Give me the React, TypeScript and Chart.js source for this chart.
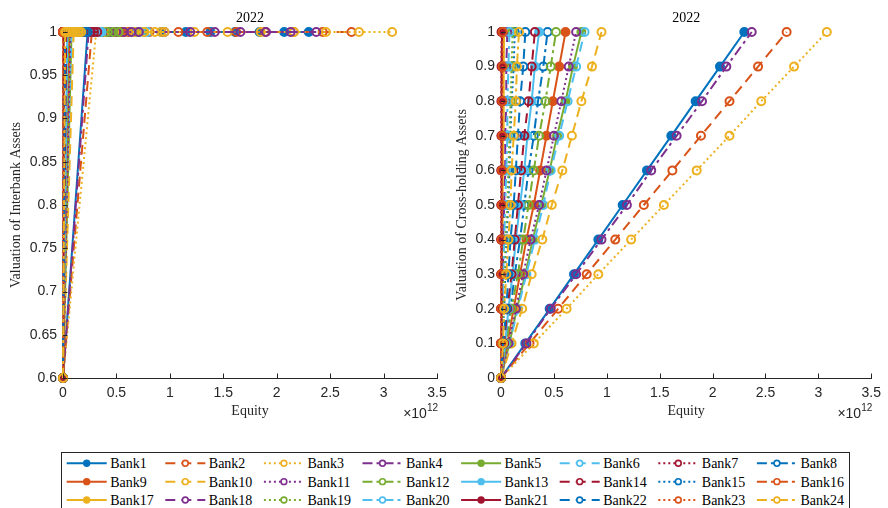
import React, { useEffect, useRef } from "react";
import { Chart, registerables } from "chart.js";

Chart.register(...registerables);

// ---------------- DATA ----------------
const bankNames = [
  "Bank1", "Bank2", "Bank3", "Bank4", "Bank5", "Bank6", "Bank7", "Bank8",
  "Bank9", "Bank10", "Bank11", "Bank12", "Bank13", "Bank14", "Bank15", "Bank16",
  "Bank17", "Bank18", "Bank19", "Bank20", "Bank21", "Bank22", "Bank23", "Bank24",
];

// y values of each series
const interbankValuation = [0.6, 1, 1, 1, 1, 1, 1, 1, 1, 1, 1];
const crossHoldingValuation = [0, 0.1, 0.2, 0.3, 0.4, 0.5, 0.6, 0.7, 0.8, 0.9, 1];

// Equity (×10^12) of each bank at each valuation step
const bank1 = [0, 0.23, 0.46, 0.69, 0.92, 1.15, 1.38, 1.61, 1.84, 2.07, 2.3];
const bank2 = [0, 0.27, 0.54, 0.81, 1.08, 1.35, 1.62, 1.89, 2.16, 2.43, 2.7];
const bank3 = [0, 0.31, 0.62, 0.92, 1.23, 1.54, 1.85, 2.16, 2.46, 2.77, 3.08];
const bank4 = [0, 0.24, 0.47, 0.71, 0.95, 1.19, 1.42, 1.66, 1.9, 2.13, 2.37];
const bank5 = [0, 0.08, 0.15, 0.23, 0.3, 0.38, 0.46, 0.53, 0.61, 0.68, 0.76];
const bank6 = [0, 0.08, 0.16, 0.24, 0.32, 0.4, 0.47, 0.55, 0.63, 0.71, 0.79];
const bank7 = [0, 0.001, 0.001, 0.002, 0.002, 0.003, 0.003, 0.004, 0.004, 0.005, 0.005];
const bank8 = [0, 0.04, 0.09, 0.13, 0.18, 0.22, 0.26, 0.31, 0.35, 0.4, 0.44];
const bank9 = [0, 0.06, 0.12, 0.18, 0.24, 0.31, 0.37, 0.43, 0.49, 0.55, 0.61];
const bank10 = [0, 0.1, 0.2, 0.29, 0.39, 0.48, 0.58, 0.67, 0.76, 0.86, 0.95];
const bank11 = [0, 0.07, 0.14, 0.21, 0.28, 0.36, 0.43, 0.5, 0.57, 0.64, 0.71];
const bank12 = [0, 0.05, 0.1, 0.16, 0.21, 0.26, 0.31, 0.36, 0.42, 0.47, 0.52];
const bank13 = [0, 0.04, 0.07, 0.11, 0.14, 0.18, 0.22, 0.25, 0.29, 0.32, 0.36];
const bank14 = [0, 0.03, 0.06, 0.1, 0.13, 0.16, 0.19, 0.22, 0.26, 0.29, 0.32];
const bank15 = [0, 0.01, 0.03, 0.04, 0.05, 0.07, 0.08, 0.09, 0.1, 0.12, 0.13];
const bank16 = [0, 0.002, 0.004, 0.006, 0.008, 0.01, 0.012, 0.014, 0.016, 0.018, 0.02];
const bank17 = [0, 0.003, 0.006, 0.009, 0.012, 0.015, 0.018, 0.021, 0.024, 0.027, 0.03];
const bank18 = [0, 0.01, 0.01, 0.02, 0.02, 0.03, 0.04, 0.04, 0.05, 0.05, 0.06];
const bank19 = [0, 0.01, 0.02, 0.03, 0.04, 0.06, 0.07, 0.08, 0.09, 0.1, 0.11];
const bank20 = [0, 0.01, 0.02, 0.02, 0.03, 0.04, 0.05, 0.06, 0.06, 0.07, 0.08];
const bank21 = [0, 0.001, 0.002, 0.003, 0.004, 0.005, 0.006, 0.007, 0.008, 0.009, 0.01];
const bank22 = [0, 0.02, 0.05, 0.07, 0.09, 0.12, 0.14, 0.16, 0.18, 0.21, 0.23];
const bank23 = [0, 0.002, 0.003, 0.005, 0.006, 0.008, 0.009, 0.011, 0.012, 0.014, 0.015];
const bank24 = [0, 0.02, 0.03, 0.05, 0.07, 0.09, 0.1, 0.12, 0.14, 0.15, 0.17];

const equity = [
  bank1, bank2, bank3, bank4, bank5, bank6, bank7, bank8,
  bank9, bank10, bank11, bank12, bank13, bank14, bank15, bank16,
  bank17, bank18, bank19, bank20, bank21, bank22, bank23, bank24,
];

const xTicks = [0, 0.5, 1, 1.5, 2, 2.5, 3, 3.5];
const leftYTicks = [0.6, 0.65, 0.7, 0.75, 0.8, 0.85, 0.9, 0.95, 1];
const rightYTicks = [0, 0.1, 0.2, 0.3, 0.4, 0.5, 0.6, 0.7, 0.8, 0.9, 1];

const titleText = "2022";
const leftYLabel = "Valuation of Interbank Assets";
const rightYLabel = "Valuation of Cross-holding Assets";
const xLabel = "Equity";

// ---------------- STYLE ----------------
const palette = ["#0072BD", "#D95319", "#EDB120", "#7E2F8E", "#77AC30", "#4DBEEE", "#A2142F"];
const dashes: number[][] = [[], [10, 6], [2, 3], [10, 4, 3, 4]];
const svgDashes = ["none", "10 6", "2 3", "10 4 3 4"];
const AXIS = "#262626";
const SANS = '"Liberation Sans", Arial, sans-serif';
const SERIF = '"Liberation Serif", "Times New Roman", serif';

const fmt = (v: number) => String(+(+v).toFixed(2));

const axisExtras = {
  id: "axisExtras",
  afterDraw(chart: any) {
    const { ctx, chartArea: a, scales } = chart;
    const x = scales.x;
    const y = scales.y;
    ctx.save();
    ctx.strokeStyle = AXIS;
    ctx.lineWidth = 1;
    ctx.beginPath();
    x.ticks.forEach((t: any) => {
      const px = Math.round(x.getPixelForValue(t.value)) + 0.5;
      ctx.moveTo(px, a.bottom);
      ctx.lineTo(px, a.bottom - 4.5);
    });
    y.ticks.forEach((t: any) => {
      const py = Math.round(y.getPixelForValue(t.value)) + 0.5;
      ctx.moveTo(a.left, py);
      ctx.lineTo(a.left + 4.5, py);
    });
    ctx.stroke();
    ctx.fillStyle = AXIS;
    ctx.textAlign = "right";
    ctx.textBaseline = "alphabetic";
    ctx.font = `10px ${SANS}`;
    ctx.fillText("12", a.right + 1, 411);
    const w = ctx.measureText("12").width;
    ctx.font = `14px ${SANS}`;
    ctx.fillText("\u00d710", a.right + 1 - w, 418);
    ctx.restore();
  },
};

function makeConfig(side: "left" | "right"): any {
  const yVals = side === "left" ? interbankValuation : crossHoldingValuation;
  const yTicks = side === "left" ? leftYTicks : rightYTicks;
  const datasets = equity.map((xs, i) => {
    const color = palette[i % 7];
    const style = i % 4;
    return {
      label: bankNames[i],
      data: xs.map((xv, k) => ({ x: xv, y: yVals[k] })),
      borderColor: color,
      backgroundColor: color,
      borderWidth: 2,
      borderDash: dashes[style],
      borderCapStyle: "butt",
      pointRadius: 4,
      pointHoverRadius: 4,
      pointBorderWidth: 2,
      pointBorderColor: color,
      pointBackgroundColor: style === 0 ? color : "rgba(255,255,255,0)",
      tension: 0,
      fill: false,
      clip: false,
      order: 24 - i,
    };
  });
  const isLeft = side === "left";
  return {
    type: "line",
    data: { datasets },
    options: {
      responsive: false,
      animation: false,
      events: [],
      devicePixelRatio: 1,
      layout: {
        padding: isLeft
          ? { left: 0, right: 451, top: 0, bottom: 88.2 }
          : { left: 446, right: 12.3, top: 0, bottom: 88.2 },
      },
      plugins: {
        legend: { display: false },
        tooltip: { enabled: false },
        title: {
          display: true,
          text: titleText,
          fullSize: false,
          color: "#000",
          font: { family: SERIF, size: 14, weight: "normal", lineHeight: 1.2 },
          padding: { top: 10, bottom: 5.2 },
        },
      },
      scales: {
        x: {
          type: "linear",
          min: 0,
          max: 3.5,
          afterFit: (s: any) => { s.height = 41.8; },
          afterBuildTicks: (s: any) => { s.ticks = xTicks.map((v) => ({ value: v })); },
          grid: { display: false, drawTicks: false, tickLength: 0 },
          border: { display: true, color: AXIS, width: 1 },
          ticks: {
            color: AXIS,
            font: { family: SANS, size: 14, lineHeight: 1.2 },
            padding: 7,
            maxRotation: 0,
            autoSkip: false,
            callback: (v: any) => fmt(v),
          },
          title: {
            display: true,
            text: xLabel,
            color: AXIS,
            font: { family: SERIF, size: 14, lineHeight: 1.2 },
            padding: { top: 0, bottom: 0 },
          },
        },
        y: {
          type: "linear",
          min: yTicks[0],
          max: yTicks[yTicks.length - 1],
          afterFit: (s: any) => { s.width = isLeft ? 63 : 55; },
          afterBuildTicks: (s: any) => { s.ticks = yTicks.map((v) => ({ value: v })); },
          grid: { display: false, drawTicks: false, tickLength: 0 },
          border: { display: true, color: AXIS, width: 1 },
          ticks: {
            color: AXIS,
            font: { family: SANS, size: 14, lineHeight: 1.2 },
            padding: 6,
            autoSkip: false,
            callback: (v: any) => fmt(v),
          },
          title: {
            display: true,
            text: isLeft ? leftYLabel : rightYLabel,
            color: AXIS,
            font: { family: SERIF, size: 14, lineHeight: 1.2 },
            padding: { top: 8, bottom: 0 },
          },
        },
      },
    },
    plugins: [axisExtras],
  };
}

function ChartCanvas({ side }: { side: "left" | "right" }) {
  const ref = useRef<HTMLCanvasElement | null>(null);
  useEffect(() => {
    if (!ref.current) return;
    const chart = new Chart(ref.current, makeConfig(side));
    return () => chart.destroy();
  }, [side]);
  return (
    <canvas
      ref={ref}
      width={888}
      height={508}
      style={{ position: "absolute", left: 0, top: 0, width: 888, height: 508 }}
    />
  );
}

function Legend() {
  const colStart = 66.7;
  const colStep = 98.6;
  const rowStart = 463.3;
  const rowStep = 18.35;
  const items = bankNames.map((name, i) => {
    const r = Math.floor(i / 8);
    const c = i % 8;
    const x0 = colStart + c * colStep;
    const yc = rowStart + r * rowStep;
    const color = palette[i % 7];
    const style = i % 4;
    return (
      <g key={name}>
        <line
          x1={x0}
          y1={yc}
          x2={x0 + 40}
          y2={yc}
          stroke={color}
          strokeWidth={2}
          strokeDasharray={svgDashes[style]}
        />
        <circle
          cx={x0 + 20}
          cy={yc}
          r={2.9}
          stroke={color}
          strokeWidth={1.6}
          fill={style === 0 ? color : "#ffffff"}
        />
        <text
          x={x0 + 43.5}
          y={yc + 5}
          fontFamily={SERIF}
          fontSize={14}
          fill="#000"
        >
          {name}
        </text>
      </g>
    );
  });
  return (
    <svg
      width={888}
      height={508}
      style={{ position: "absolute", left: 0, top: 0 }}
    >
      <rect x={61.5} y={452.5} width={788} height={62} fill="#ffffff" stroke={AXIS} strokeWidth={1} />
      {items}
    </svg>
  );
}

export default function App() {
  return (
    <div
      style={{
        position: "absolute",
        left: 0,
        top: 0,
        width: 888,
        height: 508,
        overflow: "hidden",
        background: "#ffffff",
      }}
    >
      <ChartCanvas side="left" />
      <ChartCanvas side="right" />
      <Legend />
    </div>
  );
}
